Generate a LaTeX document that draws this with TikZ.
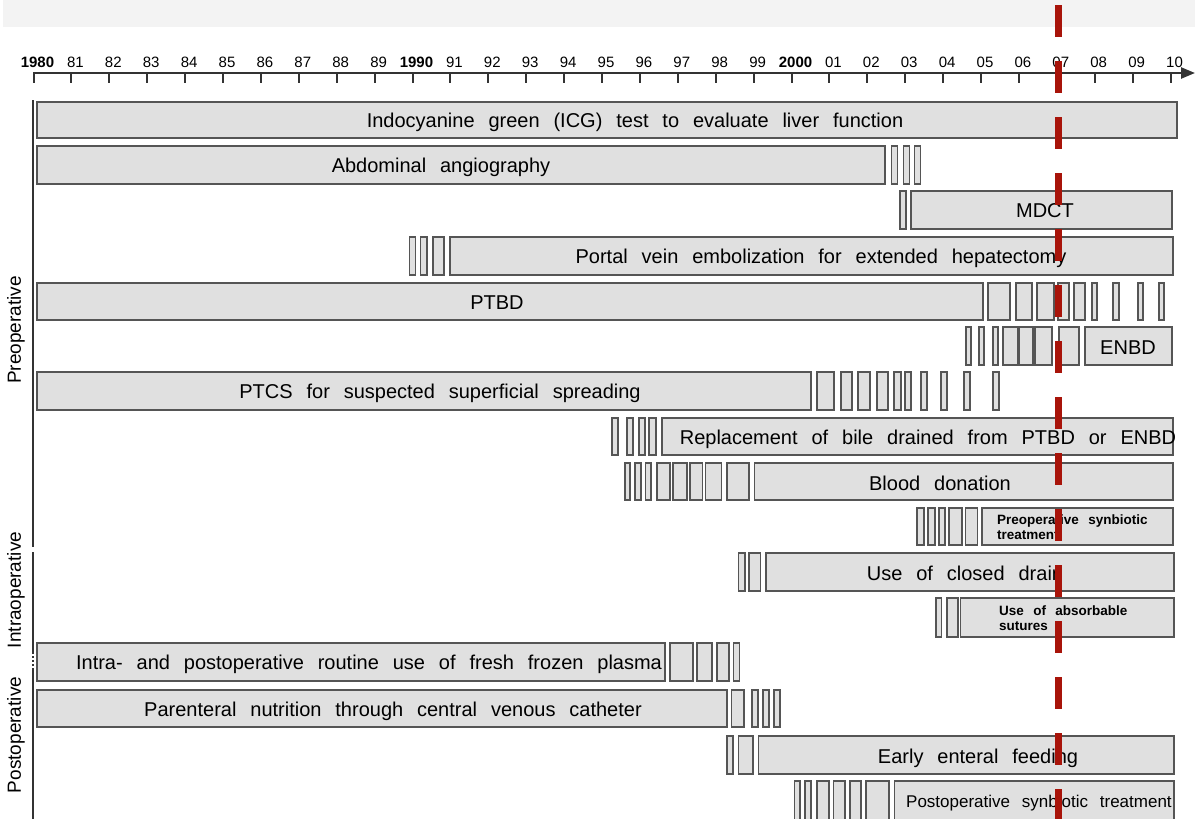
\documentclass[tikz,border=0pt]{standalone}
\usepackage{fontspec}
\setmainfont{Liberation Sans}[WordSpace={2.5}]
\usepackage{tikz}
\usetikzlibrary{arrows.meta}
\definecolor{barfill}{HTML}{E0E0E0}
\definecolor{barline}{HTML}{555555}
\definecolor{markred}{HTML}{A8140A}
\definecolor{bandgray}{HTML}{F3F3F3}
\newcommand{\rowfont}{\fontsize{20}{22}\selectfont}
\newcommand{\notefont}{\fontsize{13.5}{15}\selectfont\bfseries}

\begin{document}
\begin{tikzpicture}[x=1pt, y=-1pt,
    bar/.style={draw=barline, fill=barfill, line width=1.4pt},
    rowtext/.style={inner sep=0pt, anchor=base, font=\rowfont},
    note/.style={inner sep=0pt, anchor=west, align=left, font=\notefont},
    yearlab/.style={inner sep=0pt, anchor=base, font=\fontsize{15}{17}\selectfont},
    phase/.style={inner sep=0pt, rotate=90, font=\fontsize{19}{21}\selectfont},
    phaseline/.style={draw=black!80, line width=2pt}]
\useasboundingbox (0,0) rectangle (1195,819);
\fill[bandgray] (3,0) rectangle (1195,27);

% time axis
\draw[line width=2.5pt, black!80, -{Triangle[length=14pt,width=11pt]}] (33,73) -- (1195,73);
\foreach \i in {0,...,30}
    \draw[line width=2pt, black!80] (33.5+37.9*\i,73) -- ++(0,10);
\foreach \i/\lab in {0/\textbf{1980},1/81,2/82,3/83,4/84,5/85,6/86,7/87,8/88,9/89,
                     10/\textbf{1990},11/91,12/92,13/93,14/94,15/95,16/96,17/97,18/98,19/99,
                     20/\textbf{2000},21/01,22/02,23/03,24/04,25/05,26/06,27/07,28/08,29/09,30/10}
    \node[yearlab] (y\i) at (37.5+37.9*\i,67) {\lab};

% phases
\draw[phaseline] (33,100) -- (33,547);
\draw[phaseline] (33,552) -- (33,652);
\draw[phaseline, dotted] (33,652) -- (33,668);
\draw[phaseline] (33,668) -- (33,825);
\node[phase] (pre) at (16,330) {Preoperative};
\node[phase] (intra) at (16,590) {Intraoperative};
\node[phase] (post) at (16,735) {Postoperative};

% ICG
\draw[bar] (37,102) rectangle (1177,138);
\node[rowtext] (icg) at (635,127) {Indocyanine green (ICG) test to evaluate liver function};

% angiography
\draw[bar] (37,146) rectangle (885,184);
\foreach \a/\b in {891.7/897.7,903.3/909.3,914.3/920.3}
    \draw[bar] (\a,146) rectangle (\b,184);
\node[rowtext] (angio) at (441,172) {Abdominal angiography};

% MDCT
\draw[bar] (900,191) rectangle (906,229);
\draw[bar] (911,191) rectangle (1172,229);
\node[rowtext] (mdct) at (1045,217) {MDCT};

% portal vein embolization
\foreach \a/\b in {409.5/415.5,420.5/427,433/444}
    \draw[bar] (\a,237) rectangle (\b,275);
\draw[bar] (450,237) rectangle (1173,275);
\node[rowtext] (pve) at (821,263) {Portal vein embolization for extended hepatectomy};

% PTBD
\draw[bar] (37,283) rectangle (983,320);
\foreach \a/\b in {988/1010,1016/1032,1037/1054,1058/1069,1074/1085,1092/1097,1113/1119,1138/1143,1159/1164}
    \draw[bar] (\a,283) rectangle (\b,320);
\node[rowtext] (ptbd) at (497,309) {PTBD};

% ENBD
\foreach \a/\b in {966/971,979/984,993/998,1003/1018,1019/1033,1035/1052,1059/1079}
    \draw[bar] (\a,327) rectangle (\b,365);
\draw[bar] (1085,327) rectangle (1172,365);
\node[rowtext] (enbd) at (1128,354) {ENBD};

% PTCS
\draw[bar] (37,372) rectangle (811,410);
\foreach \a/\b in {817/834,841/852,858/870,877/888,894/901,905/911,921/927,941/947,964/970,993/999}
    \draw[bar] (\a,372) rectangle (\b,410);
\node[rowtext] (ptcs) at (440,398) {PTCS for suspected superficial spreading};

% bile replacement
\foreach \a/\b in {612/618,627/633,639/645,649/656}
    \draw[bar] (\a,418) rectangle (\b,455);
\draw[bar] (662,418) rectangle (1173,455);
\node[rowtext] (bile) at (928,444) {Replacement of bile drained from PTBD or ENBD};

% blood donation
\foreach \a/\b in {625/630,635/641,645.5/651,657/670,673/687,690/702.5,705.5/721.5,727/749}
    \draw[bar] (\a,463) rectangle (\b,500);
\draw[bar] (754.5,463) rectangle (1173,500);
\node[rowtext] (donation) at (940,490) {Blood donation};

% preoperative synbiotics
\foreach \a/\b in {917/924,928/935,939/945,949/962,965.5/977.5}
    \draw[bar] (\a,508) rectangle (\b,545);
\draw[bar] (982,508) rectangle (1173,545);
\node[note] (presyn) at (997,527) {Preoperative synbiotic\\treatment};

% closed drain
\foreach \a/\b in {738.5/745,749/760.5}
    \draw[bar] (\a,553) rectangle (\b,591);
\draw[bar] (766,553) rectangle (1174,591);
\node[rowtext] (drain) at (965,580) {Use of closed drain};

% absorbable sutures
\foreach \a/\b in {936/941.5,947/958}
    \draw[bar] (\a,598) rectangle (\b,637);
\draw[bar] (960.5,598) rectangle (1174,637);
\node[note] (sutures) at (999,618) {Use of absorbable\\sutures};

% fresh frozen plasma
\draw[bar] (37,643) rectangle (665,681);
\foreach \a/\b in {670/693,697/712,717/729,733.5/739.5}
    \draw[bar] (\a,643) rectangle (\b,681);
\node[rowtext] (ffp) at (369,669) {Intra- and postoperative routine use of fresh frozen plasma};

% parenteral nutrition
\draw[bar] (37,690) rectangle (727,727);
\foreach \a/\b in {731.5/744,752/758,763/769,774/780}
    \draw[bar] (\a,690) rectangle (\b,727);
\node[rowtext] (tpn) at (393,716) {Parenteral nutrition through central venous catheter};

% early enteral feeding
\foreach \a/\b in {727/733,738.5/753}
    \draw[bar] (\a,736) rectangle (\b,774);
\draw[bar] (758.5,736) rectangle (1174,774);
\node[rowtext] (enteral) at (978,763) {Early enteral feeding};

% postoperative synbiotics
\foreach \a/\b in {794.5/800,805/811,817/829,833.5/845,850/861,866/889}
    \draw[bar] (\a,781) rectangle (\b,825);
\draw[bar] (894.5,781) rectangle (1174,825);
\node[rowtext, anchor=base west, font=\fontsize{17}{19}\selectfont] (postsyn) at (906,807) {Postoperative synbiotic treatment};

% marker for 2007
\draw[markred, line width=7pt, dash pattern=on 32pt off 24pt] (1058,5) -- (1058,825);
\end{tikzpicture}
\end{document}
